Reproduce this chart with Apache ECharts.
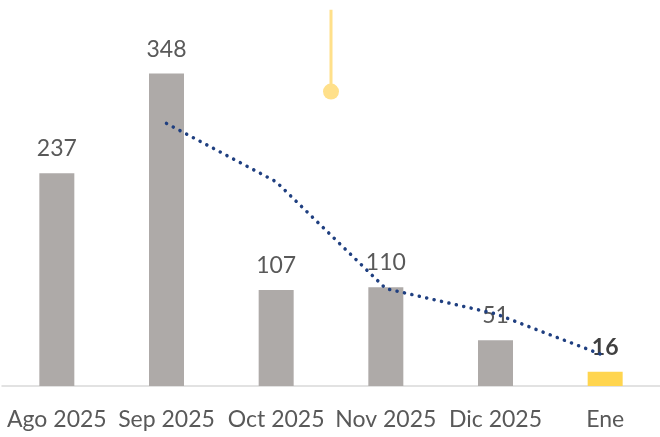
<!DOCTYPE html>
<html><head><meta charset="utf-8">
<script src="https://cdn.jsdelivr.net/npm/echarts@6/dist/echarts.min.js"></script>
<style>html,body{margin:0;padding:0;background:#fff}#c{width:660px;height:437px}</style>
</head><body><div id="c"></div>
<script>
var categories = ['Ago 2025','Sep 2025','Oct 2025','Nov 2025','Dic 2025','Ene'];
var barValues = [237, 348, 107, 110, 51, 16];
var trendValues = [null, 292.5, 227.5, 108.5, 80.5, 33.5];
var markerPos = 2.5;
var markerTop = 419;
var markerBottom = 328;

var chart = echarts.init(document.getElementById('c'));
var bars = barValues.map(function(v, i){
  var last = i === barValues.length - 1;
  return {
    value: v,
    itemStyle: {color: last ? '#FFD54F' : '#AEAAA8'},
    label: last ? {fontWeight: 'bold', color: '#404040'} : {}
  };
});
chart.setOption({
  animation: false,
  grid: {left: 2, right: -2, top: 0, bottom: 51, containLabel: false},
  xAxis: [{
    type: 'category', data: categories,
    axisLine: {lineStyle: {color: '#D9D9D9', width: 1.5}},
    axisTick: {show: false},
    axisLabel: {interval: 0, hideOverlap: false, fontFamily: 'Lato', fontSize: 23, color: '#595959', margin: 22}
  }, {
    type: 'value', min: -0.5, max: 5.5, show: false
  }],
  yAxis: {type: 'value', min: 0, max: 430, show: false},
  series: [{
    type: 'bar', data: bars, barWidth: 35,
    label: {show: true, position: 'top', distance: 13, fontFamily: 'Lato', fontSize: 23, color: '#595959'}
  }, {
    type: 'line', data: trendValues, symbol: 'none', connectNulls: false,
    lineStyle: {color: '#1F3F80', width: 3.5, type: [0.1, 7.5], cap: 'round'},
    z: 5
  }, {
    type: 'line', xAxisIndex: 1,
    data: [{value: [markerPos, markerTop], symbol: 'none'}, {value: [markerPos, markerBottom], symbol: 'circle', symbolSize: 16}],
    lineStyle: {color: '#FFE08A', width: 3},
    itemStyle: {color: '#FFE08A'},
    z: 1
  }]
});
</script></body></html>
